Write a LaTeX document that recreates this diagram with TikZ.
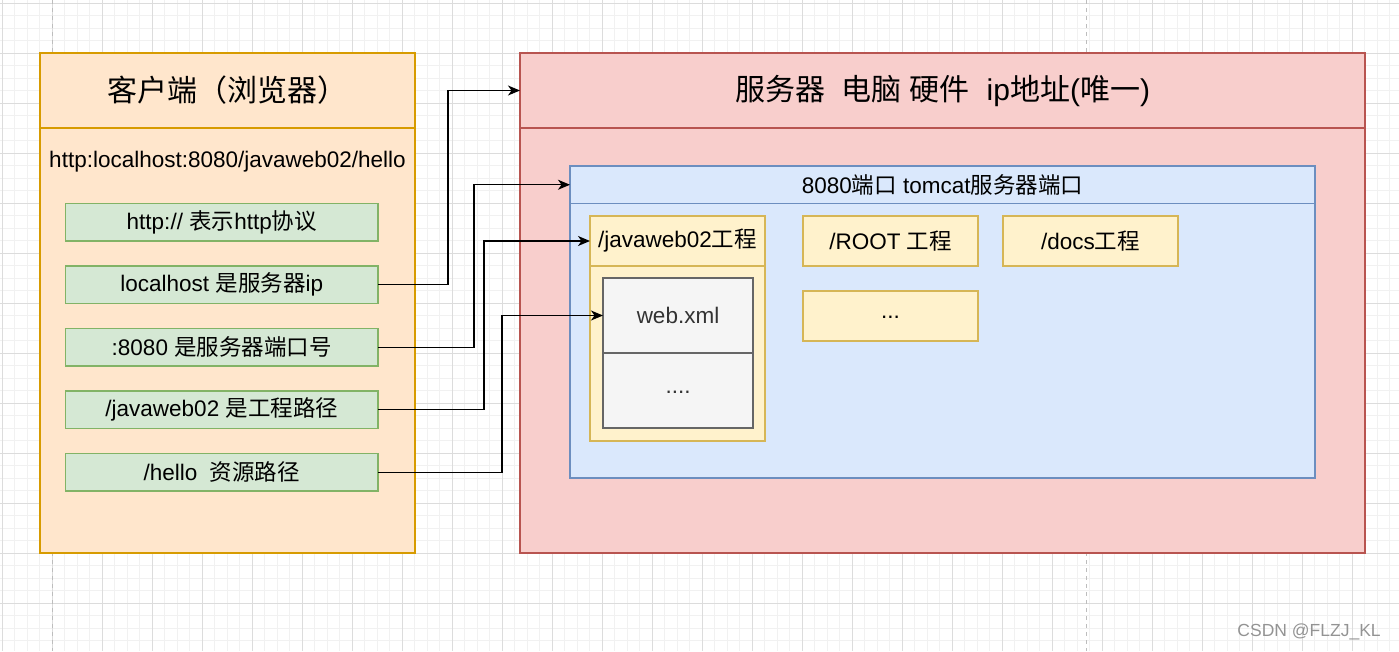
\documentclass[tikz,border=0pt]{standalone}
\usepackage{fontspec}
\setmainfont{Liberation Sans}
\newfontfamily\cjk{Noto Sans CJK SC}
\usetikzlibrary{positioning,arrows.meta}
\definecolor{gridminor}{HTML}{F1F1F1}
\definecolor{gridmajor}{HTML}{DCDCDC}
\definecolor{pageline}{HTML}{BDBDBD}
\definecolor{cfill}{HTML}{FFE6CC}
\definecolor{cline}{HTML}{D79B00}
\definecolor{gfill}{HTML}{D5E8D4}
\definecolor{gline}{HTML}{82B366}
\definecolor{sfill}{HTML}{F8CECC}
\definecolor{sline}{HTML}{B85450}
\definecolor{tfill}{HTML}{DAE8FC}
\definecolor{tline}{HTML}{6C8EBF}
\definecolor{yfill}{HTML}{FFF2CC}
\definecolor{yline}{HTML}{D6B656}
\definecolor{wfill}{HTML}{F5F5F5}
\definecolor{wline}{HTML}{666666}
\definecolor{wtext}{HTML}{333333}
\newcommand{\titlefont}{\fontsize{30}{36}\selectfont}
\newcommand{\bodyfont}{\fontsize{22.5}{27}\selectfont}

\begin{document}
\begin{tikzpicture}[x=1pt,y=-1pt,line width=1.25pt,outer sep=0pt,font=\bodyfont,
	link/.style={-{Stealth[length=12pt,width=10pt,inset=3.5pt]},line width=1.3pt,draw=black},
	dots/.style={text height=0.75em,text depth=0.2em}]

	\useasboundingbox (0,0) rectangle (1399,651);
	\begin{scope}[line width=1pt]
		\foreach \gx in {2,14.5,...,1399} \draw[gridminor] (\gx,0) -- (\gx,651);
		\foreach \gy in {3,15.5,...,651} \draw[gridminor] (0,\gy) -- (1399,\gy);
		\foreach \gx in {2,52,...,1399} \draw[gridmajor] (\gx,0) -- (\gx,651);
		\foreach \gy in {3,53,...,651} \draw[gridmajor] (0,\gy) -- (1399,\gy);
		\draw[pageline,dash pattern=on 4pt off 4pt] (52,0) -- (52,651);
		\draw[pageline,dash pattern=on 4pt off 4pt] (1086,0) -- (1086,651);
	\end{scope}

	\begin{scope}[every node/.style={draw=cline,fill=cfill,rectangle,anchor=north,minimum width=375}]
		\node[minimum height=75,font=\titlefont] (c0) at (227.5,53) {\cjk 客户端（浏览器）};
		\node[minimum height=425] (c1) at (c0.south) {};
	\end{scope}
	\node (url) at (227.5,162) {http:localhost:8080/javaweb02/hello};

	\begin{scope}[every node/.style={draw=gline,fill=gfill,rectangle,minimum width=312.5,minimum height=37.5}]
		\node (g1) at (221.75,222.25) {http:// {\cjk 表示}http{\cjk 协议}};
		\node (g2) at (g1.south) [below=25pt] {localhost {\cjk 是服务器}ip};
		\node (g3) at (g2.south) [below=25pt] {:8080 {\cjk 是服务器端口号}};
		\node (g4) at (g3.south) [below=25pt] {/javaweb02 {\cjk 是工程路径}};
		\node (g5) at (g4.south) [below=25pt] {/hello~ {\cjk 资源路径}};
	\end{scope}

	\begin{scope}[every node/.style={draw=sline,fill=sfill,rectangle,anchor=north,minimum width=845}]
		\node[minimum height=75,font=\titlefont] (s0) at (942.5,53) {{\cjk 服务器}~ {\cjk 电脑} {\cjk 硬件}~ ip{\cjk 地址}({\cjk 唯一})};
		\node[minimum height=425] (s1) at (s0.south) {};
	\end{scope}

	\begin{scope}[every node/.style={draw=tline,fill=tfill,rectangle,anchor=north,minimum width=745}]
		\node[minimum height=37.5] (t0) at (942.5,166) {8080{\cjk 端口} tomcat{\cjk 服务器端口}};
		\node[minimum height=274.5] (t1) at (t0.south) {};
	\end{scope}

	\begin{scope}[every node/.style={draw=yline,fill=yfill,rectangle,anchor=north,minimum width=175,minimum height=50}]
		\node (j0) at (677.5,216) {/javaweb02{\cjk 工程}};
		\node[minimum height=175] (j1) at (j0.south) {};
		\node (r0) at (890.5,216) {/ROOT {\cjk 工程}};
		\node (d0) at (r0.east) [right=25pt] {/docs{\cjk 工程}};
		\node[dots] (e0) at (r0.south) [below=25pt] {...};
	\end{scope}

	\begin{scope}[every node/.style={draw=wline,fill=wfill,text=wtext,rectangle,anchor=north,minimum width=150,minimum height=75}]
		\node (w0) at (678,278) {web.xml};
		\node[dots] (w1) at (w0.south) {....};
	\end{scope}

	\draw[link] (g2.east) -- ++(70,0) |- (s0.west);
	\draw[link] (g3.east) -- ++(96,0) |- (t0.west);
	\draw[link] (g4.east) -- ++(106,0) |- (j0.west);
	\draw[link] (g5.east) -- ++(124,0) |- (w0.west);

	\node[text=gray!85,font=\fontsize{17.5}{21}\selectfont,anchor=east] (wm) at (1384,632) {CSDN @FLZJ\_KL};

\end{tikzpicture}
\end{document}
